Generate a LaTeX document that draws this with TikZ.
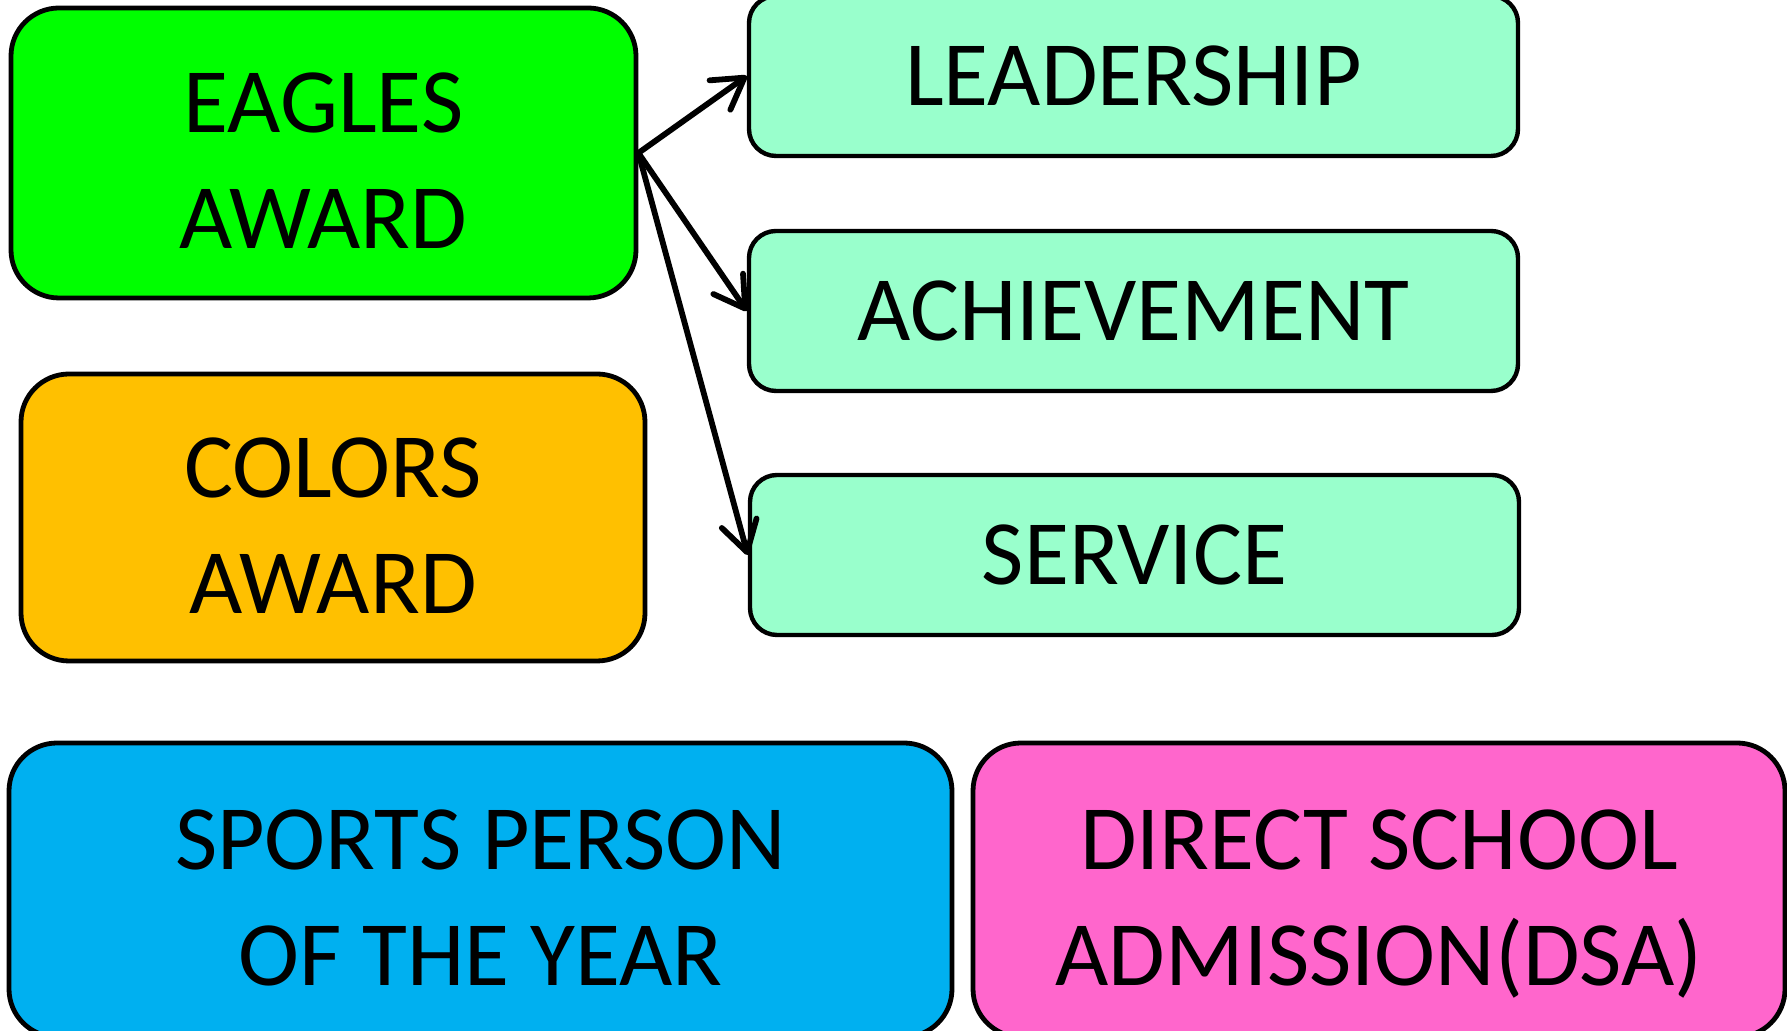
\documentclass[tikz,border=0pt]{standalone}
\usepackage{fontspec}
\setmainfont{Carlito}
\usetikzlibrary{arrows.meta}

\definecolor{eaglegreen}{HTML}{00FF00}
\definecolor{colorsgold}{HTML}{FFC000}
\definecolor{aqua}{HTML}{99FFCC}
\definecolor{sportsblue}{HTML}{00B0F0}
\definecolor{dsapink}{HTML}{FF66CC}

% two centred lines, set a little below the middle of the box
\newcommand{\twolines}[2]{\rule{0pt}{52pt}#1\\#2\rule[-14pt]{0pt}{14pt}}

\tikzset{
  award/.style={draw=black,line width=2.4pt,rounded corners=24pt,align=center,
    minimum width=#1,minimum height=145pt,inner sep=0pt,
    font=\fontsize{46}{58}\selectfont},
  aspect/.style={draw=black,line width=2.2pt,rounded corners=13.5pt,fill=aqua,
    minimum width=384.5pt,minimum height=80pt,inner sep=0pt,
    font=\fontsize{46}{58}\selectfont},
  link/.style={line width=2.9pt,-{Straight Barb[length=15pt,width=18pt,round]}}
}

\begin{document}
\begin{tikzpicture}[x=1pt,y=1pt]
\useasboundingbox (0,0) rectangle (893.5,515.5);
% awards
\node[award=312.5pt,fill=eaglegreen] (eagles) at (161.75,439) {\twolines{EAGLES}{AWARD}};
\node[award=312pt,fill=colorsgold,minimum height=143.5pt] (colors) at (166.5,256.75) {\twolines{COLORS}{AWARD}};
\node[award=471.5pt,fill=sportsblue,minimum height=147pt] (sports) at (240.25,70.5) {\twolines{SPORTS PERSON}{OF THE YEAR}};
\node[award=406pt,fill=dsapink,minimum height=147pt] (dsa) at (689.5,70.5) {\twolines{DIRECT SCHOOL}{ADMISSION(DSA)}};
% what the eagles award looks at
\node[aspect] (leadership) at (566.75,477.5) {LEADERSHIP};
\node[aspect] (achievement) at (566.75,360) {ACHIEVEMENT};
\node[aspect] (service) at (567.25,238) {SERVICE};
\foreach \target in {leadership,achievement,service}
  \draw[link] (eagles.east) -- (\target.west);
\end{tikzpicture}
\end{document}
